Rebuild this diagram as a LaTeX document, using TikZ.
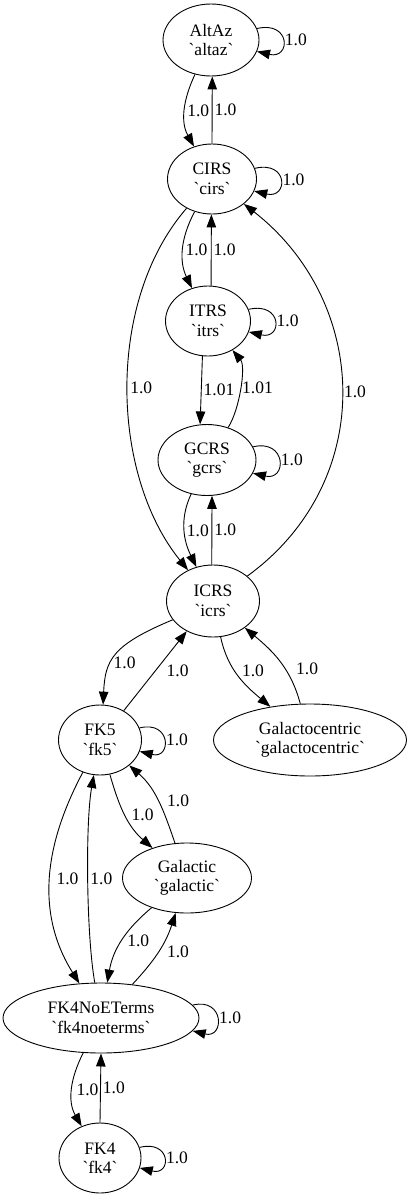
\documentclass[tikz,border=0pt]{standalone}
\usepackage{fontspec}
\setmainfont{Liberation Serif}
\usetikzlibrary{shapes.geometric}
\usetikzlibrary{arrows.meta}
\newcommand{\grv}{\textasciigrave}

\begin{document}
\begin{tikzpicture}[x=1pt,y=-1pt,
  font=\fontsize{17.5}{19.5}\selectfont,
  sys/.style={draw,ellipse,inner sep=0pt,align=center,line width=0.9pt},
  conn/.style={line width=0.9pt,-{Triangle[length=13pt,width=9.5pt]}},
  lbl/.style={inner sep=2pt}]
  \useasboundingbox (0,0) rectangle (410,1200);

  % frames
  \node[sys,minimum width=96pt,minimum height=72pt] (altaz) at (211,40) {AltAz\\\grv altaz\grv};
  \node[sys,minimum width=89pt,minimum height=70pt] (cirs) at (212,179) {CIRS\\\grv cirs\grv};
  \node[sys,minimum width=85pt,minimum height=70pt] (itrs) at (208,321) {ITRS\\\grv itrs\grv};
  \node[sys,minimum width=98pt,minimum height=71pt] (gcrs) at (207,460) {GCRS\\\grv gcrs\grv};
  \node[sys,minimum width=93pt,minimum height=72pt] (icrs) at (213,601) {ICRS\\\grv icrs\grv};
  \node[sys,minimum width=83pt,minimum height=70pt] (fk5) at (100,740) {FK5\\\grv fk5\grv};
  \node[sys,minimum width=193pt,minimum height=72pt] (galcen) at (310,740) {Galactocentric\\\grv galactocentric\grv};
  \node[sys,minimum width=129pt,minimum height=70pt] (galactic) at (187,878) {Galactic\\\grv galactic\grv};
  \node[sys,minimum width=196pt,minimum height=70pt] (fk4noe) at (101,1018) {FK4NoETerms\\\grv fk4noeterms\grv};
  \node[sys,minimum width=82pt,minimum height=70pt] (fk4) at (100,1158) {FK4\\\grv fk4\grv};

  % transforms
  \draw[conn] (altaz) to[out=-115,in=119] node[lbl,right] {1.0} (cirs);
  \draw[conn] (cirs.90) -- node[lbl,right] {1.0} (altaz.-88);
  \draw[conn] (altaz.14) .. controls +(34,-8) and +(34,8) .. node[lbl,right] {1.0} (altaz.-14);

  \draw[conn] (cirs) to[out=-118,in=116] node[lbl,right] {1.0} (itrs);
  \draw[conn] (itrs.85) -- node[lbl,right] {1.0} (cirs.-91);
  \draw[conn] (cirs.14) .. controls +(34,-8) and +(34,8) .. node[lbl,right] {1.0} (cirs.-16);

  \draw[conn] (cirs) to[out=-131,in=129,looseness=0.87] node[lbl,right] {1.0} (icrs);
  \draw[conn] (icrs) to[out=36,in=-38,looseness=1.1] node[lbl,right] {1.0} (cirs);

  \draw[conn] (itrs.-99) -- node[lbl,right] {1.01} (gcrs.101);
  \draw[conn] (gcrs) to[out=57,in=-50,looseness=0.7] node[lbl,right] {1.01} (itrs);
  \draw[conn] (itrs.16) .. controls +(34,-8) and +(34,8) .. node[lbl,right] {1.0} (itrs.-15);
  \draw[conn] (gcrs.16) .. controls +(34,-8) and +(34,8) .. node[lbl,right] {1.0} (gcrs.-16);

  \draw[conn] (gcrs) to[out=-115,in=116] node[lbl,right] {1.0} (icrs);
  \draw[conn] (icrs.92) -- node[lbl,right] {1.0} (gcrs.-82);

  \draw[conn] (icrs.205) .. controls +(-60,25) and +(2,-45) .. node[lbl,right,pos=0.6] {1.0} (fk5.85);
  \draw[conn] (fk5.51) -- node[lbl,right,xshift=9pt] {1.0} (icrs.-131);
  \draw[conn] (icrs) to[out=-78,in=140] node[lbl,right,xshift=5pt,pos=0.42] {1.0} (galcen);
  \draw[conn] (galcen) to[out=105,in=-40] node[lbl,right,xshift=9pt,pos=0.4] {1.0} (icrs);

  \draw[conn] (fk5.17) .. controls +(32,-8) and +(32,8) .. node[lbl,right] {1.0} (fk5.-16);
  \draw[conn] (fk5) to[out=-74,in=139] node[lbl,right,xshift=4pt] {1.0} (galactic);
  \draw[conn] (galactic) to[out=109,in=-41] node[lbl,right,xshift=7pt] {1.0} (fk5);
  \draw[conn] (fk5) to[out=-118,in=122] node[lbl,right,xshift=4pt] {1.0} (fk4noe);
  \draw[conn] (fk4noe) to[out=100,in=-100,looseness=0.6] node[lbl,right] {1.0} (fk5);

  \draw[conn] (galactic) to[out=-140,in=80] node[lbl,right,xshift=3pt] {1.0} (fk4noe);
  \draw[conn] (fk4noe) to[out=47,in=-108] node[lbl,right,xshift=6pt] {1.0} (galactic);
  \draw[conn] (fk4noe.8) .. controls +(32,-8) and +(32,8) .. node[lbl,right] {1.0} (fk4noe.-8);

  \draw[conn] (fk4noe) to[out=-117,in=120] node[lbl,right,xshift=2pt] {1.0} (fk4);
  \draw[conn] (fk4.90) -- node[lbl,right] {1.0} (fk4noe.-90);
  \draw[conn] (fk4.15) .. controls +(32,-8) and +(32,8) .. node[lbl,right] {1.0} (fk4.-14);
\end{tikzpicture}
\end{document}
